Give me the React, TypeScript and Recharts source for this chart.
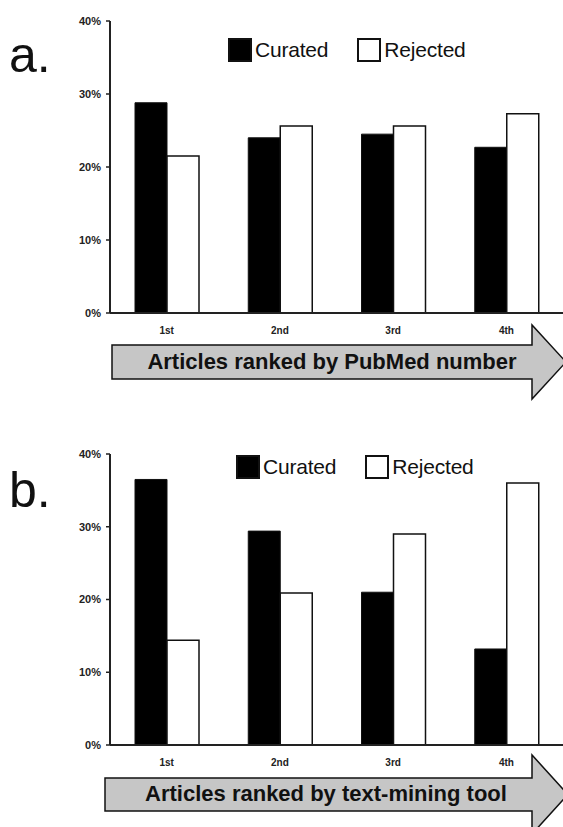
import React from "react";
import { Bar, BarChart, Legend, XAxis, YAxis } from "recharts";

const ranks = ["1st", "2nd", "3rd", "4th"];
const seriesNames = ["Curated", "Rejected"];
const yTicks = [0, 10, 20, 30, 40];

// panel a: ranked by PubMed number
const pubmedCurated = [28.8, 24.0, 24.5, 22.7];
const pubmedRejected = [21.5, 25.6, 25.6, 27.3];

// panel b: ranked by text-mining tool
const miningCurated = [36.5, 29.4, 21.0, 13.2];
const miningRejected = [14.4, 20.9, 29.0, 36.0];

const FONT = '"Liberation Sans", Arial, Helvetica, sans-serif';
const INK = "#111";

function buildRows(curated: number[], rejected: number[]) {
  return ranks.map((rank, i) => ({ rank, curated: curated[i], rejected: rejected[i] }));
}

function LegendBox({ payload }: any) {
  if (!payload) return null;
  return (
    <div style={{ display: "flex", alignItems: "center", fontFamily: FONT, fontSize: 21, color: INK }}>
      {payload.map((p: any, i: number) => (
        <div key={i} style={{ display: "flex", alignItems: "center", marginRight: i === 0 ? 29 : 0 }}>
          <span
            style={{
              display: "inline-block",
              width: 24,
              height: 24,
              boxSizing: "border-box",
              background: p.color,
              border: `2px solid ${INK}`,
              marginRight: 3,
            }}
          />
          <span style={{ letterSpacing: -0.2 }}>{p.value}</span>
        </div>
      ))}
    </div>
  );
}

interface PanelProps {
  top: number;
  height: number;
  marginTop: number;
  curated: number[];
  rejected: number[];
  legendTop: number;
  legendLeft: number;
}

function Panel({ top, height, marginTop, curated, rejected, legendTop, legendLeft }: PanelProps) {
  const rows = buildRows(curated, rejected);
  return (
    <div style={{ position: "absolute", left: 0, top }}>
      <BarChart
        width={563}
        height={height}
        data={rows}
        margin={{ top: marginTop, right: 0, bottom: 0, left: 0 }}
        barGap={0}
        barSize={32}
      >
        <XAxis
          dataKey="rank"
          height={27}
          tickLine={false}
          tickSize={6}
          tickMargin={8}
          axisLine={{ stroke: "#222", strokeWidth: 2 }}
          tick={{ fontSize: 10, fontWeight: 700, fill: "#222", fontFamily: FONT }}
        />
        <YAxis
          width={110}
          domain={[0, 40]}
          ticks={yTicks}
          interval={0}
          tickSize={4}
          tickMargin={5}
          tickFormatter={(v: number) => `${v}%`}
          axisLine={{ stroke: "#222", strokeWidth: 2 }}
          tickLine={{ stroke: "#222", strokeWidth: 1.5 }}
          tick={{ fontSize: 11, fontWeight: 700, fill: "#222", fontFamily: FONT }}
        />
        <Legend
          layout="horizontal"
          verticalAlign="middle"
          align="center"
          content={<LegendBox />}
          wrapperStyle={{ top: legendTop, left: legendLeft, width: "auto", height: "auto" }}
        />
        <Bar dataKey="curated" name={seriesNames[0]} fill="#000" stroke={INK} strokeWidth={1} isAnimationActive={false} />
        <Bar dataKey="rejected" name={seriesNames[1]} fill="#fff" stroke={INK} strokeWidth={1.5} isAnimationActive={false} />
      </BarChart>
    </div>
  );
}

export default function App() {
  return (
    <div
      style={{
        position: "absolute",
        left: 0,
        top: 0,
        width: 563,
        height: 827,
        overflow: "hidden",
        background: "#fff",
      }}
    >
      <Panel top={0} height={340} marginTop={21} curated={pubmedCurated} rejected={pubmedRejected} legendTop={38} legendLeft={228} />
      <Panel top={430} height={342} marginTop={24} curated={miningCurated} rejected={miningRejected} legendTop={25} legendLeft={236} />
      <svg width={563} height={827} style={{ position: "absolute", left: 0, top: 0, pointerEvents: "none" }}>
        <text x={9} y={72} fontFamily={FONT} fontSize={50} fill={INK}>a.</text>
        <text x={9} y={507} fontFamily={FONT} fontSize={50} fill={INK}>b.</text>
        <polygon
          points="112,345 532,345 532,325 566,362 532,399 532,379 112,379"
          fill="#c6c6c6"
          stroke={INK}
          strokeWidth={1.5}
        />
        <text x={332} y={369} textAnchor="middle" fontFamily={FONT} fontWeight={700} fontSize={22} fill={INK}>
          Articles ranked by PubMed number
        </text>
        <polygon
          points="105,778 532,778 532,755 568,794.5 532,834 532,811 105,811"
          fill="#c6c6c6"
          stroke={INK}
          strokeWidth={1.5}
        />
        <text x={326} y={801} textAnchor="middle" fontFamily={FONT} fontWeight={700} fontSize={22} fill={INK}>
          Articles ranked by text-mining tool
        </text>
      </svg>
    </div>
  );
}
